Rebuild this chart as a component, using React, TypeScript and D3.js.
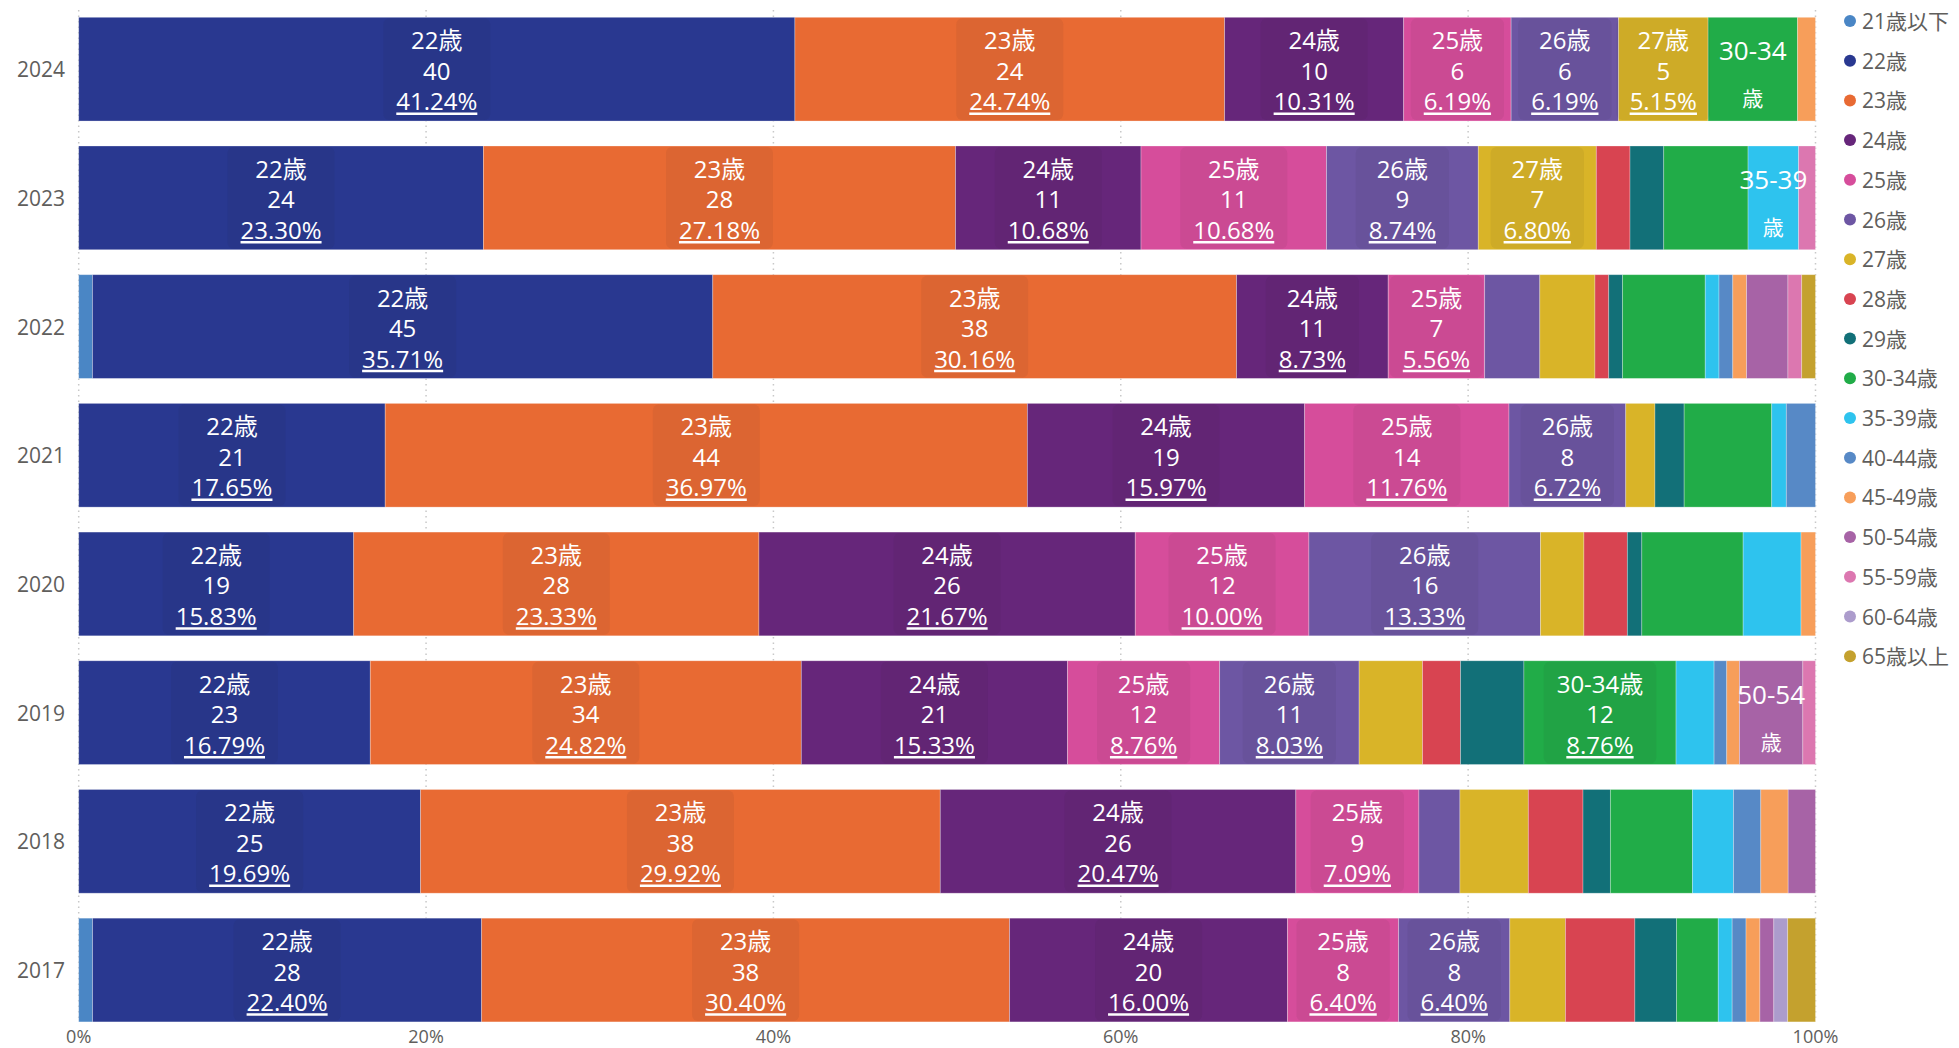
import React from "react";
import * as d3 from "d3";

const categories = ["21歳以下","22歳","23歳","24歳","25歳","26歳","27歳","28歳","29歳","30-34歳","35-39歳","40-44歳","45-49歳","50-54歳","55-59歳","60-64歳","65歳以上"];
const colors = ["#4A86C5","#293890","#E86A33","#66267A","#D64D9B","#6D56A3","#D9B428","#D84451","#127078","#21AC48","#2EC3EE","#5789C6","#F79E5A","#A763A6","#DC77B0","#AC9CCC","#C4A12E"];
const years = ["2024","2023","2022","2021","2020","2019","2018","2017"];
const counts2024 = [0,40,24,10,6,6,5,0,0,5,0,0,1,0,0,0,0];
const counts2023 = [0,24,28,11,11,9,7,2,2,5,3,0,0,0,1,0,0];
const counts2022 = [1,45,38,11,7,4,4,1,1,6,1,1,1,3,1,0,1];
const counts2021 = [0,21,44,19,14,8,2,0,2,6,1,2,0,0,0,0,0];
const counts2020 = [0,19,28,26,12,16,3,3,1,7,4,0,1,0,0,0,0];
const counts2019 = [0,23,34,21,12,11,5,3,5,12,3,1,1,5,1,0,0];
const counts2018 = [0,25,38,26,9,3,5,4,2,6,3,2,2,2,0,0,0];
const counts2017 = [1,28,38,20,8,8,4,5,3,3,1,1,1,1,0,1,2];
const countsByYear = [counts2024,counts2023,counts2022,counts2021,counts2020,counts2019,counts2018,counts2017];
// categories that carry a full data label (name / count / percent), per year
const fullLabels = [
  ["22歳","23歳","24歳","25歳","26歳","27歳"],
  ["22歳","23歳","24歳","25歳","26歳","27歳"],
  ["22歳","23歳","24歳","25歳"],
  ["22歳","23歳","24歳","25歳","26歳"],
  ["22歳","23歳","24歳","25歳","26歳"],
  ["22歳","23歳","24歳","25歳","26歳","30-34歳"],
  ["22歳","23歳","24歳","25歳"],
  ["22歳","23歳","24歳","25歳","26歳"],
];
// categories whose label is truncated to the wrapped name only
const wrappedLabels = [["30-34歳"],["35-39歳"],[],[],[],["50-54歳"],[],[]];
const xTicks = [0,0.2,0.4,0.6,0.8,1];

const FONT = "'Open Sans', 'Noto Sans CJK JP', sans-serif";

let ctx: CanvasRenderingContext2D | null = null;
function textWidth(t: string, size: number) {
  if (!ctx) ctx = document.createElement("canvas").getContext("2d");
  if (!ctx) return t.length * size * 0.6;
  ctx.font = `${size}px 'Open Sans', 'Noto Sans CJK JP', sans-serif`;
  return ctx.measureText(t).width;
}

export default function App() {
  const W = 1959, H = 1048;
  const x = d3.scaleLinear().domain([0, 1]).range([78.7, 1815.5]);
  const y = d3.scaleBand().domain(years).range([17.3, 1021.9]).paddingInner(0.194).paddingOuter(0);
  const bw = y.bandwidth();

  const rows = years.map((yr, i) => {
    const r: any = { year: yr };
    categories.forEach((c, j) => (r[c] = countsByYear[i][j]));
    return r;
  });
  const stack = d3.stack<any>().keys(categories).offset(d3.stackOffsetExpand);
  const series = stack(rows);

  const segs: any[] = [];
  series.forEach((s, ci) => {
    s.forEach((d, yi) => {
      const v = countsByYear[yi][ci];
      if (v <= 0) return;
      segs.push({ ci, yi, x0: x(d[0]), x1: x(d[1]), year: years[yi], v, total: d3.sum(countsByYear[yi]) });
    });
  });

  const labelSize = 24;

  return (
    <svg width={W} height={H} style={{ position: "absolute", left: 0, top: 0, display: "block", background: "#fff" }} fontFamily={FONT}>
      {xTicks.map((t) => (
        <line key={"g" + t} x1={x(t)} x2={x(t)} y1={10} y2={1022} stroke="#c8c8c8" strokeWidth={1.5} strokeDasharray="1.5,4" />
      ))}
      {segs.map((s, k) => (
        <rect key={"r" + k} x={s.x0} y={y(s.year)!} width={Math.max(0, s.x1 - s.x0)} height={bw} fill={colors[s.ci]} stroke="#ffffff" strokeOpacity={0.35} strokeWidth={0.8} />
      ))}
      {segs.map((s, k) => {
        const cat = categories[s.ci];
        const top = y(s.year)!;
        const cy = top + bw / 2;
        const cx = (s.x0 + s.x1) / 2;
        if (fullLabels[s.yi].includes(cat)) {
          const pct = ((s.v / s.total) * 100).toFixed(2) + "%";
          const pw = textWidth(pct, labelSize);
          const nw = textWidth(cat, labelSize);
          const boxW = Math.max(pw, nw) + 26;
          return (
            <g key={"l" + k}>
              <rect x={cx - boxW / 2} y={top + 1} width={boxW} height={bw - 2} rx={6} fill="rgba(30,30,30,0.06)" />
              <text x={cx} y={cy - 29.5} textAnchor="middle" dominantBaseline="central" fill="#fff" fontSize={labelSize}>{cat}</text>
              <text x={cx} y={cy + 1} textAnchor="middle" dominantBaseline="central" fill="#fff" fontSize={labelSize}>{s.v}</text>
              <text x={cx} y={cy + 31.5} textAnchor="middle" dominantBaseline="central" fill="#fff" fontSize={labelSize}>{pct}</text>
              <line x1={cx - pw / 2} x2={cx + pw / 2} y1={cy + 44.5} y2={cy + 44.5} stroke="#fff" strokeWidth={2.5} />
            </g>
          );
        }
        if (wrappedLabels[s.yi].includes(cat)) {
          const head = cat.replace("歳", "");
          return (
            <g key={"w" + k}>
              <text x={cx} y={cy - 19} textAnchor="middle" dominantBaseline="central" fill="#fff" fontSize={26}>{head}</text>
              <text x={cx} y={cy + 29} textAnchor="middle" dominantBaseline="central" fill="#fff" fontSize={21}>歳</text>
            </g>
          );
        }
        return null;
      })}
      {years.map((yr) => (
        <text key={"y" + yr} x={65} y={y(yr)! + bw / 2} textAnchor="end" dominantBaseline="central" fill="#605E5C" fontSize={21}>{yr}</text>
      ))}
      {xTicks.map((t) => (
        <text key={"t" + t} x={x(t)} y={1042.5} textAnchor="middle" fill="#605E5C" fontSize={18}>{d3.format(".0%")(t)}</text>
      ))}
      {categories.map((c, i) => (
        <g key={"lg" + c}>
          <circle cx={1850} cy={21 + i * 39.7} r={6} fill={colors[i]} />
          <text x={1862} y={21 + i * 39.7} dominantBaseline="central" fill="#605E5C" fontSize={21}>{c}</text>
        </g>
      ))}
    </svg>
  );
}
